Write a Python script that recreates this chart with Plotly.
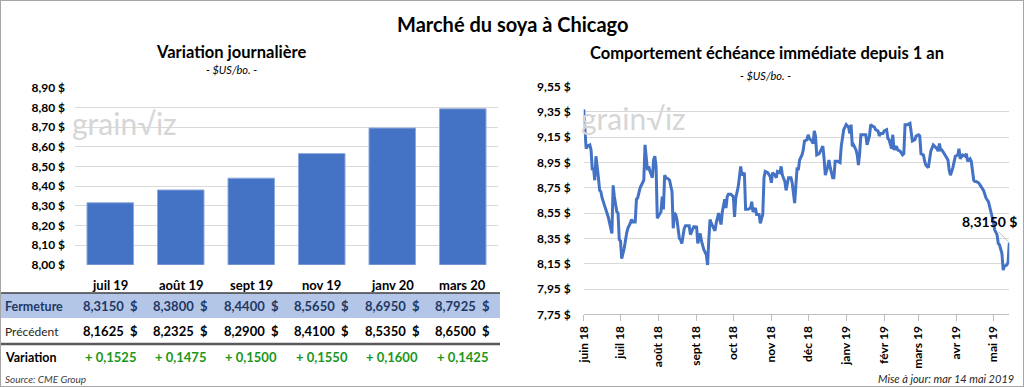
import plotly.graph_objects as go

# ---------------- data ----------------
contracts = ["juil 19", "août 19", "sept 19", "nov 19", "janv 20", "mars 20"]
fermeture = [8.3150, 8.3800, 8.4400, 8.5650, 8.6950, 8.7925]
precedent = [8.1625, 8.2325, 8.2900, 8.4100, 8.5350, 8.6500]
variation = [0.1525, 0.1475, 0.1500, 0.1550, 0.1600, 0.1425]

hist_dates = [
    "2018-06-01", "2018-06-03", "2018-06-04", "2018-06-06", "2018-06-07", "2018-06-08", "2018-06-09",
    "2018-06-10", "2018-06-11", "2018-06-12", "2018-06-13", "2018-06-14", "2018-06-15", "2018-06-16",
    "2018-06-18", "2018-06-19", "2018-06-21", "2018-06-22", "2018-06-24", "2018-06-25", "2018-06-26",
    "2018-06-28", "2018-06-29", "2018-06-30",
    "2018-07-01", "2018-07-02", "2018-07-03", "2018-07-04", "2018-07-06", "2018-07-07", "2018-07-09",
    "2018-07-10", "2018-07-11", "2018-07-13", "2018-07-14", "2018-07-15", "2018-07-17", "2018-07-18",
    "2018-07-19", "2018-07-20", "2018-07-21", "2018-07-22", "2018-07-23", "2018-07-24", "2018-07-25",
    "2018-07-27", "2018-07-28", "2018-07-29", "2018-07-30", "2018-07-31",
    "2018-08-02", "2018-08-03", "2018-08-04", "2018-08-05", "2018-08-06", "2018-08-07", "2018-08-09",
    "2018-08-10", "2018-08-12", "2018-08-13", "2018-08-14", "2018-08-15", "2018-08-16", "2018-08-18",
    "2018-08-19", "2018-08-20", "2018-08-22", "2018-08-23", "2018-08-25", "2018-08-26", "2018-08-27",
    "2018-08-29", "2018-08-30", "2018-08-31",
    "2018-09-01", "2018-09-02", "2018-09-04", "2018-09-05", "2018-09-06", "2018-09-07", "2018-09-09",
    "2018-09-10", "2018-09-11", "2018-09-12", "2018-09-13", "2018-09-15", "2018-09-16", "2018-09-17",
    "2018-09-19", "2018-09-20", "2018-09-21", "2018-09-22", "2018-09-24", "2018-09-25", "2018-09-26",
    "2018-09-27", "2018-09-29",
    "2018-10-01", "2018-10-02", "2018-10-03", "2018-10-05", "2018-10-06", "2018-10-07", "2018-10-08",
    "2018-10-10", "2018-10-11", "2018-10-13", "2018-10-15", "2018-10-16", "2018-10-17", "2018-10-19",
    "2018-10-20", "2018-10-22", "2018-10-23", "2018-10-25", "2018-10-26", "2018-10-27", "2018-10-29",
    "2018-10-31",
    "2018-11-01", "2018-11-02", "2018-11-04", "2018-11-05", "2018-11-06", "2018-11-08", "2018-11-09",
    "2018-11-10", "2018-11-12", "2018-11-13", "2018-11-15", "2018-11-17", "2018-11-18", "2018-11-19",
    "2018-11-20", "2018-11-22", "2018-11-23", "2018-11-24", "2018-11-26", "2018-11-27", "2018-11-28",
    "2018-11-30",
    "2018-12-01", "2018-12-02", "2018-12-04", "2018-12-05", "2018-12-06", "2018-12-07", "2018-12-08",
    "2018-12-10", "2018-12-11", "2018-12-13", "2018-12-14", "2018-12-15", "2018-12-17", "2018-12-18",
    "2018-12-19", "2018-12-21", "2018-12-22", "2018-12-23", "2018-12-25", "2018-12-27", "2018-12-28",
    "2018-12-30", "2018-12-31",
    "2019-01-01", "2019-01-03", "2019-01-04", "2019-01-05", "2019-01-06", "2019-01-07", "2019-01-09",
    "2019-01-10", "2019-01-11", "2019-01-12", "2019-01-13", "2019-01-15", "2019-01-17", "2019-01-18",
    "2019-01-20", "2019-01-21", "2019-01-22", "2019-01-24", "2019-01-25", "2019-01-27", "2019-01-28",
    "2019-01-29", "2019-01-31",
    "2019-02-01", "2019-02-03", "2019-02-04", "2019-02-05", "2019-02-07", "2019-02-08", "2019-02-09",
    "2019-02-11", "2019-02-12", "2019-02-14", "2019-02-16", "2019-02-17", "2019-02-18", "2019-02-20",
    "2019-02-22", "2019-02-23", "2019-02-24", "2019-02-26", "2019-02-27",
    "2019-03-01", "2019-03-02", "2019-03-03", "2019-03-05", "2019-03-06", "2019-03-07", "2019-03-09",
    "2019-03-10", "2019-03-11", "2019-03-13", "2019-03-14", "2019-03-16", "2019-03-17", "2019-03-18",
    "2019-03-19", "2019-03-20", "2019-03-22", "2019-03-23", "2019-03-25", "2019-03-26", "2019-03-27",
    "2019-03-29", "2019-03-30", "2019-03-31",
    "2019-04-02", "2019-04-03", "2019-04-04", "2019-04-05", "2019-04-06", "2019-04-08", "2019-04-09",
    "2019-04-10", "2019-04-12", "2019-04-13", "2019-04-15", "2019-04-16", "2019-04-17", "2019-04-19",
    "2019-04-20", "2019-04-21", "2019-04-23", "2019-04-24", "2019-04-25", "2019-04-27", "2019-04-28",
    "2019-04-30",
    "2019-05-01", "2019-05-02", "2019-05-04", "2019-05-05", "2019-05-06", "2019-05-08", "2019-05-09",
    "2019-05-10", "2019-05-12", "2019-05-13", "2019-05-14",
]
hist_prices = [
    9.37, 9.06, 9.08, 9.09, 9.05, 8.89, 8.91,
    8.81, 9.00, 8.93, 8.83, 8.73, 8.72, 8.67,
    8.62, 8.58, 8.52, 8.47, 8.39, 8.77, 8.68,
    8.56, 8.55, 8.34,
    8.33, 8.19, 8.23, 8.27, 8.39, 8.43, 8.47,
    8.50, 8.48, 8.48, 8.66, 8.67, 8.75, 8.77,
    8.80, 8.81, 9.09, 8.98, 8.89, 8.92, 8.88,
    8.83, 8.97, 9.00, 8.92, 8.51,
    8.54, 8.56, 8.68, 8.58, 8.85, 8.83, 8.82,
    8.81, 8.72, 8.43, 8.55, 8.54, 8.50, 8.35,
    8.34, 8.31, 8.43, 8.45, 8.45, 8.45, 8.38,
    8.42, 8.45, 8.43,
    8.45, 8.31, 8.39, 8.33, 8.29, 8.26, 8.22,
    8.14, 8.34, 8.50, 8.47, 8.43, 8.41, 8.47,
    8.55, 8.50, 8.46, 8.56, 8.66, 8.59, 8.68,
    8.70, 8.70,
    8.68, 8.52, 8.67, 8.76, 8.84, 8.92, 8.85,
    8.87, 8.58, 8.58, 8.59, 8.64, 8.56, 8.59,
    8.54, 8.54, 8.47, 8.54, 8.83, 8.88, 8.87,
    8.84,
    8.79, 8.87, 8.85, 8.83, 8.88, 8.87, 8.92,
    8.85, 8.80, 8.73, 8.83, 8.83, 8.79, 8.71,
    8.63, 8.91, 8.89, 8.97, 9.01, 9.05, 9.12,
    9.13,
    9.17, 9.14, 9.12, 9.10, 9.20, 9.16, 9.01,
    9.02, 9.04, 9.08, 8.98, 8.85, 8.92, 8.97,
    8.91, 8.83, 8.83, 8.96, 8.96, 8.95, 9.08,
    9.21, 9.23,
    9.25, 9.23, 9.18, 9.25, 9.08, 9.09, 9.05,
    9.01, 8.93, 9.02, 9.17, 9.17, 9.17, 9.09,
    9.16, 9.25, 9.24, 9.23, 9.21, 9.20, 9.16,
    9.18, 9.18,
    9.20, 9.21, 9.14, 9.13, 9.06, 9.17, 9.05,
    9.08, 9.05, 9.04, 9.01, 9.02, 9.25, 9.25,
    9.26, 9.18, 9.12, 9.13, 9.16,
    9.17, 9.16, 9.02, 9.01, 8.96, 8.93, 8.91,
    9.00, 9.04, 9.09, 9.08, 9.06, 9.04, 9.10,
    9.05, 9.05, 9.02, 9.00, 8.97, 8.89, 8.85,
    8.91, 8.96, 9.00,
    9.01, 9.06, 8.98, 9.00, 9.01, 9.00, 9.02,
    8.96, 8.98, 8.96, 8.81, 8.80, 8.80, 8.79,
    8.77, 8.76, 8.73, 8.70, 8.67, 8.64, 8.60,
    8.54,
    8.48, 8.42, 8.38, 8.31, 8.30, 8.23, 8.10,
    8.13, 8.14, 8.16, 8.315,
]

month_ticks = ["2018-06-01", "2018-07-01", "2018-08-01", "2018-09-01", "2018-10-01", "2018-11-01",
               "2018-12-01", "2019-01-01", "2019-02-01", "2019-03-01", "2019-04-01", "2019-05-01"]
month_labels = ["juin 18", "juil 18", "août 18", "sept 18", "oct 18", "nov 18",
                "déc 18", "janv 19", "févr 19", "mars 19", "avr 19", "mai 19"]

FONT = "Lato"
W, H = 1024, 387


def py(px):
    return 1 - px / H


def fr(v, d=4):
    return f"{v:.{d}f}".replace(".", ",")


fig = go.Figure()

fig.add_trace(go.Bar(
    x=contracts, y=fermeture, xaxis="x", yaxis="y",
    marker=dict(color="#4472c4", line=dict(color="#8eaadb", width=1)),
    hoverinfo="skip",
))

fig.add_trace(go.Scatter(
    x=hist_dates, y=hist_prices, xaxis="x2", yaxis="y2", mode="lines",
    line=dict(color="#4472c4", width=3), hoverinfo="skip",
))

tickfont = dict(family=FONT, size=12, color="#000000", weight="bold")

fig.update_layout(
    template="none",
    width=W, height=H,
    margin=dict(l=0, r=0, t=0, b=0, pad=0),
    paper_bgcolor="white", plot_bgcolor="white",
    showlegend=False,
    separators=", ",
    bargap=0.34,
    xaxis=dict(domain=[75 / W, 498 / W], anchor="y", showticklabels=False, automargin=False,
               showgrid=False, zeroline=False, showline=False, ticks="", fixedrange=True),
    yaxis=dict(domain=[py(264.7), py(87.7)], anchor="x", range=[8.0, 8.9], automargin=False,
               tick0=8.0, dtick=0.1, tickformat=".2f", ticksuffix=" $", ticks="",
               showgrid=True, gridcolor="#d9d9d9", gridwidth=1, zeroline=False,
               showline=False, tickfont=tickfont, ticklabelstandoff=9),
    xaxis2=dict(domain=[583.7 / W, 1009.3 / W], anchor="y2", type="date", automargin=False,
                range=["2018-06-01", "2019-05-14"],
                tickmode="array", tickvals=month_ticks, ticktext=month_labels,
                tickangle=-90, ticks="outside", ticklen=6, tickcolor="#bfbfbf", tickwidth=1,
                showline=True, linecolor="#bfbfbf", linewidth=1,
                showgrid=False, zeroline=False, tickfont=tickfont),
    yaxis2=dict(domain=[py(314.3), py(86.7)], anchor="x2", range=[7.75, 9.55], automargin=False,
                tick0=7.75, dtick=0.2, tickformat=".2f", ticksuffix=" $", ticks="",
                showgrid=True, gridcolor="#d9d9d9", gridwidth=1, zeroline=False,
                showline=False, tickfont=tickfont, ticklabelstandoff=12),
)

ann = []


def label(text, x, y, size, color="#000", xanchor="center", xref="paper"):
    ann.append(dict(text=text, x=x, y=y, xref=xref, yref="paper", xanchor=xanchor,
                    yanchor="middle", showarrow=False,
                    font=dict(family=FONT, size=size, color=color)))


# titles
label("<b>Marché du soya à Chicago</b>", 512 / W, py(24), 20)
label("<b>Variation journalière</b>", 231 / W, py(52), 16.5)
label("<i>- $US/bo. -</i>", 231 / W, py(70), 11)
label("<b>Comportement échéance immédiate depuis 1 an</b>", 767 / W, py(53), 16.5)
label("<i>- $US/bo. -</i>", 765 / W, py(75), 11)

# watermarks
for wx, wy in [(70, 123), (579, 118)]:
    label("grain√iz", wx / W, py(wy), 30, "#d6d6d6", xanchor="left")

# table
label("<b>Fermeture</b>", 3 / W, py(306), 12.5, "#1f3864", xanchor="left")
label("Précédent", 3 / W, py(331), 12, "#262626", xanchor="left")
label("<b>Variation</b>", 3 / W, py(357), 12.5, "#000000", xanchor="left")

for c, f, p, v in zip(contracts, fermeture, precedent, variation):
    label(f"<b>{c}</b>", c, py(285), 13, "#000", xref="x")
    label(f"<b>{fr(f)}  $</b>", c, py(306), 13, "#1f3864", xref="x")
    label(f"<b>{fr(p)}  $</b>", c, py(331), 13, "#000", xref="x")
    label(f"<b>+ {fr(v)}</b>", c, py(357), 13, "#1a961a", xref="x")

label("<i>Source: CME Group</i>", 3 / W, py(379), 10, "#404040", xanchor="left")
label("<i>Mise à jour: mar 14 mai 2019</i>", 1016 / W, py(378), 11, "#262626", xanchor="right")

# last-value label
ann.append(dict(text=f"<b>{fr(hist_prices[-1])} $</b>", x=hist_dates[-1], y=hist_prices[-1],
                xref="x2", yref="y2", showarrow=True, arrowhead=0, arrowwidth=1,
                arrowcolor="#bfbfbf", ax=-20, ay=-21,
                font=dict(family=FONT, size=14, color="#000")))

fig.update_layout(annotations=ann)

shapes = [
    dict(type="rect", xref="paper", yref="paper", x0=0, x1=500 / W, y0=py(318), y1=py(293),
         fillcolor="#b4c6e7", line=dict(width=0), layer="below"),
    dict(type="line", xref="paper", yref="paper", x0=0, x1=500 / W, y0=py(293), y1=py(293),
         line=dict(color="#404040", width=1.5)),
    dict(type="line", xref="paper", yref="paper", x0=0, x1=500 / W, y0=py(344), y1=py(344),
         line=dict(color="#595959", width=2.5)),
    dict(type="rect", xref="paper", yref="paper", x0=0, x1=1, y0=0, y1=1,
         line=dict(color="#a6a6a6", width=2), fillcolor="rgba(0,0,0,0)"),
]
fig.update_layout(shapes=shapes)

fig.write_html("out.html", config={"displayModeBar": False},
               post_script="document.body.style.margin='0';")
